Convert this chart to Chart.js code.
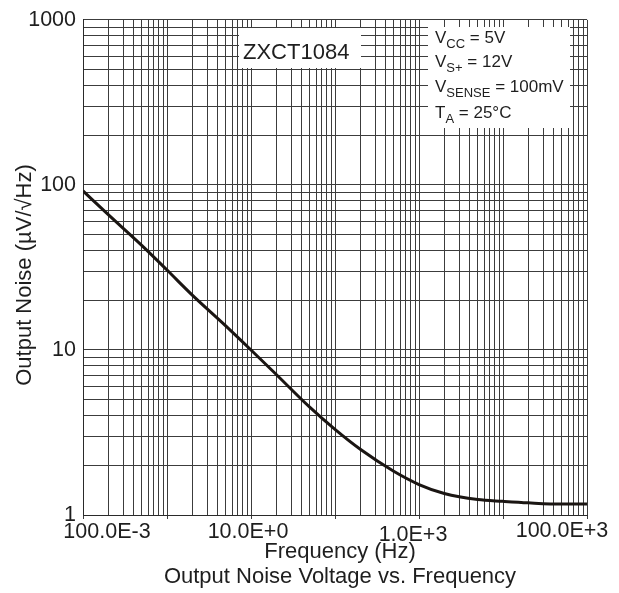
<!DOCTYPE html>
<html lang="en">
<head>
<meta charset="UTF-8">
<title>ZXCT1084 Output Noise Voltage vs. Frequency</title>
<script src="https://cdn.jsdelivr.net/npm/chart.js"></script>
<style>
    html, body { margin: 0; padding: 0; background: #fff; }
    canvas { display: block; }
</style>
</head>
<body>
<canvas id="noise-chart" width="619" height="593"></canvas>
<script>
    // values
    const frequencyHz = [0.1, 0.2, 0.5, 1, 2, 5, 10, 20, 50, 100, 200, 500, 1000, 2000, 5000, 10000, 20000, 50000, 100000];
    const noiseUv = [92, 66, 43, 30.5, 21.5, 14, 10, 7.1, 4.5, 3.3, 2.5, 1.84, 1.53, 1.35, 1.24, 1.21, 1.185, 1.165, 1.165];
    const xTickValues = [0.1, 10, 1000, 100000];
    const xTickLabels = ['100.0E-3', '10.0E+0', '1.0E+3', '100.0E+3'];
    const yTickValues = [1, 10, 100, 1000];
    const yTickLabels = ['1', '10', '100', '1000'];
    const deviceName = 'ZXCT1084';
    const conditions = [
        ['V', 'CC', ' = 5V'],
        ['V', 'S+', ' = 12V'],
        ['V', 'SENSE', ' = 100mV'],
        ['T', 'A', ' = 25°C']
    ];

    const FONT = '"Liberation Sans", Arial, sans-serif';
    const TEXT = '#1e1e1e';
    const GRID = '#3c3c3c';

    // 1..9 per decade, for the grid
    function decadeTicks(min, max) {
        const out = [];
        for (let e = Math.round(Math.log10(min)); Math.pow(10, e) <= max * 1.0001; e++) {
            for (let m = 1; m <= 9; m++) {
                const v = +(m * Math.pow(10, e)).toPrecision(6);
                if (v >= min * 0.9999 && v <= max * 1.0001) out.push({ value: v });
            }
        }
        return out;
    }
    const isDecade = v => Math.abs(Math.log10(v) - Math.round(Math.log10(v))) < 1e-9;

    const textPlugin = {
        id: 'noiseText',
        afterDraw(chart) {
            const { ctx, chartArea: area, scales: { x } } = chart;
            ctx.save();
            ctx.fillStyle = TEXT;

            // x tick labels (edge ones pulled inside like the original)
            const nudge = [24, -3, -6, -25];
            const drop = [23, 23, 26, 22];
            ctx.font = '21.5px ' + FONT;
            ctx.textAlign = 'center';
            ctx.textBaseline = 'alphabetic';
            xTickValues.forEach((v, i) => {
                ctx.fillText(xTickLabels[i], x.getPixelForValue(v) + nudge[i], area.bottom + drop[i]);
            });

            // axis titles
            ctx.font = '22px ' + FONT;
            ctx.fillText('Frequency (Hz)', 340, 558);
            ctx.fillText('Output Noise Voltage vs. Frequency', 340, 583);
            ctx.save();
            ctx.translate(31, 275);
            ctx.rotate(-Math.PI / 2);
            ctx.fillText('Output Noise (µV/√Hz)', 0, 0);
            ctx.restore();

            // device label box
            ctx.fillStyle = '#fff';
            ctx.fillRect(239, 28, 122, 40);
            ctx.fillStyle = TEXT;
            ctx.textAlign = 'left';
            ctx.font = '22px ' + FONT;
            ctx.fillText(deviceName, 243, 59);

            // test conditions box
            ctx.fillStyle = '#fff';
            ctx.fillRect(428, 27, 142, 101);
            ctx.fillStyle = TEXT;
            const baselines = [43, 67, 92, 118];
            conditions.forEach((c, i) => {
                let cx = 435;
                const by = baselines[i];
                ctx.font = '17px ' + FONT;
                ctx.fillText(c[0], cx, by);
                cx += ctx.measureText(c[0]).width;
                ctx.font = '13px ' + FONT;
                ctx.fillText(c[1], cx, by + 5);
                cx += ctx.measureText(c[1]).width;
                ctx.font = '17px ' + FONT;
                ctx.fillText(c[2], cx, by);
            });
            ctx.restore();
        }
    };

    new Chart(document.getElementById('noise-chart'), {
        type: 'line',
        data: {
            datasets: [{
                data: frequencyHz.map((f, i) => ({ x: f, y: noiseUv[i] })),
                borderColor: '#1a1512',
                borderWidth: 3,
                pointRadius: 0,
                cubicInterpolationMode: 'monotone',
                fill: false
            }]
        },
        options: {
            responsive: false,
            animation: false,
            devicePixelRatio: 1,
            layout: { padding: { left: 0, top: 15, right: 32, bottom: 0 } },
            plugins: {
                legend: { display: false },
                tooltip: { enabled: false }
            },
            scales: {
                x: {
                    type: 'logarithmic',
                    min: 0.1,
                    max: 100000,
                    afterBuildTicks: s => { s.ticks = decadeTicks(0.1, 100000); },
                    afterFit: s => { s.height = 78; },
                    ticks: { display: false, autoSkip: false },
                    grid: {
                        color: GRID,
                        lineWidth: 1,
                        drawTicks: true,
                        tickLength: 4,
                        tickColor: c => (c.tick && isDecade(c.tick.value)) ? GRID : 'rgba(0,0,0,0)'
                    },
                    border: { color: '#2a2a2a', width: 1 }
                },
                y: {
                    type: 'logarithmic',
                    min: 1,
                    max: 1000,
                    afterBuildTicks: s => { s.ticks = decadeTicks(1, 1000); },
                    afterFit: s => { s.width = 83; },
                    ticks: {
                        autoSkip: false,
                        padding: 7,
                        color: TEXT,
                        font: { family: FONT, size: 21.5 },
                        callback: v => {
                            const i = yTickValues.indexOf(+(+v).toPrecision(6));
                            return i >= 0 ? yTickLabels[i] : '';
                        }
                    },
                    grid: { color: GRID, lineWidth: 1, drawTicks: false },
                    border: { color: '#2a2a2a', width: 1 }
                }
            }
        },
        plugins: [textPlugin]
    });
</script>
</body>
</html>
